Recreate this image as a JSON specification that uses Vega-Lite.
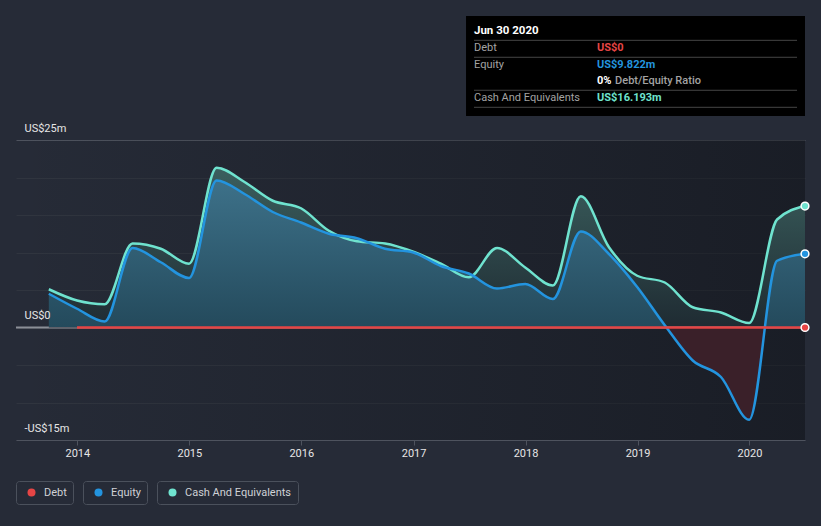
{
  "$schema": "https://vega.github.io/schema/vega-lite/v6.json",
  "width": 789,
  "height": 300,
  "autosize": {"type": "none"},
  "padding": {"left": 16, "top": 140, "right": 16, "bottom": 86},
  "background": "#262b37",
  "resolve": {"axis": {"y": "independent"}},
  "config": {
    "view": {"stroke": null},
    "font": "Roboto",
    "text": {"font": "Roboto"},
    "axis": {"labelFont": "Roboto", "labelFontSize": 11, "labelColor": "#e6e6e6"},
    "legend": {"title": null, "orient": "none", "symbolType": "circle", "symbolSize": 64, "symbolStrokeWidth": 0, "labelColor": "#cfd2d6", "labelFontSize": 11, "labelFont": "Roboto", "labelOffset": 7, "symbolOffset": 4, "strokeColor": "#4b515c", "cornerRadius": 3, "padding": 6}
  },
  "data": {
    "values": [
      {"date": "2013-09-30", "equity": 4.5, "cash": 5.1, "debt": null},
      {"date": "2013-12-31", "equity": 2.5, "cash": 3.6, "debt": 0},
      {"date": "2014-03-31", "equity": 0.8, "cash": 3.1, "debt": 0},
      {"date": "2014-06-30", "equity": 10.6, "cash": 11.2, "debt": 0},
      {"date": "2014-09-30", "equity": 8.7, "cash": 10.5, "debt": 0},
      {"date": "2014-12-31", "equity": 6.6, "cash": 8.5, "debt": 0},
      {"date": "2015-03-31", "equity": 19.6, "cash": 21.3, "debt": 0},
      {"date": "2015-06-30", "equity": 17.8, "cash": 19.4, "debt": 0},
      {"date": "2015-09-30", "equity": 15.4, "cash": 16.9, "debt": 0},
      {"date": "2015-12-31", "equity": 14.0, "cash": 15.9, "debt": 0},
      {"date": "2016-03-31", "equity": 12.5, "cash": 12.9, "debt": 0},
      {"date": "2016-06-30", "equity": 11.9, "cash": 11.5, "debt": 0},
      {"date": "2016-09-30", "equity": 10.5, "cash": 11.2, "debt": 0},
      {"date": "2016-12-31", "equity": 10.0, "cash": 10.1, "debt": 0},
      {"date": "2017-03-31", "equity": 8.2, "cash": 8.5, "debt": 0},
      {"date": "2017-06-30", "equity": 7.2, "cash": 6.7, "debt": 0},
      {"date": "2017-09-30", "equity": 5.2, "cash": 10.6, "debt": 0},
      {"date": "2017-12-31", "equity": 5.8, "cash": 8.0, "debt": 0},
      {"date": "2018-03-31", "equity": 3.8, "cash": 5.6, "debt": 0},
      {"date": "2018-06-30", "equity": 12.8, "cash": 17.5, "debt": 0},
      {"date": "2018-09-30", "equity": 9.8, "cash": 10.7, "debt": 0},
      {"date": "2018-12-31", "equity": 5.4, "cash": 6.9, "debt": 0},
      {"date": "2019-03-31", "equity": 0.3, "cash": 6.0, "debt": 0},
      {"date": "2019-06-30", "equity": -4.4, "cash": 2.7, "debt": 0},
      {"date": "2019-09-30", "equity": -6.6, "cash": 2.0, "debt": 0},
      {"date": "2019-12-31", "equity": -12.3, "cash": 0.6, "debt": 0},
      {"date": "2020-03-31", "equity": 8.9, "cash": 14.4, "debt": 0},
      {"date": "2020-06-30", "equity": 9.822, "cash": 16.193, "debt": 0}
    ]
  },
  "layer": [
    {
      "data": {"values": [{}]},
      "mark": {"type": "rect", "fill": {"gradient": "linear", "x1": 0, "y1": 0, "x2": 1, "y2": 0, "stops": [{"offset": 0, "color": "rgba(8,10,14,0)"}, {"offset": 1, "color": "rgba(8,10,14,0.42)"}]}},
      "encoding": {
        "x": {"datum": {"year": 2013, "month": 6, "date": 15}, "type": "temporal", "title": null, "scale": {"domain": [{"year": 2013, "month": 6, "date": 15}, {"year": 2020, "month": 6, "date": 30}]}},
        "x2": {"datum": {"year": 2020, "month": 6, "date": 30}},
        "y": {"datum": -15, "type": "quantitative", "title": null, "scale": {"domain": [-15, 25], "nice": false, "zero": false}, "axis": null},
        "y2": {"datum": 25}
      }
    },
    {
      "mark": {"type": "area", "interpolate": "monotone", "opacity": 0.92, "fill": {"gradient": "linear", "x1": 0, "y1": 0, "x2": 0, "y2": 1, "stops": [{"offset": 0, "color": "#3d6462"}, {"offset": 1, "color": "#1f2c33"}]}},
      "encoding": {
        "x": {"field": "date", "type": "temporal", "title": null, "scale": {"domain": [{"year": 2013, "month": 6, "date": 15}, {"year": 2020, "month": 6, "date": 30}]},
          "axis": {"title": null, "values": [{"year": 2014, "month": 1, "date": 1}, {"year": 2015, "month": 1, "date": 1}, {"year": 2016, "month": 1, "date": 1}, {"year": 2017, "month": 1, "date": 1}, {"year": 2018, "month": 1, "date": 1}, {"year": 2019, "month": 1, "date": 1}, {"year": 2020, "month": 1, "date": 1}], "tickCount": 20, "format": "%Y", "grid": false, "domain": true, "domainColor": "#4e535e", "domainWidth": 1, "ticks": true, "tickColor": "#4e535e", "tickSize": 5, "labelColor": "#e6e6e6", "labelFontSize": 11, "labelFont": "Roboto", "labelPadding": 2, "labelFlush": false}},
        "y": {"field": "cash", "type": "quantitative", "title": null, "scale": {"domain": [-15, 25], "nice": false, "zero": false},
          "axis": {"title": null, "orient": "left", "zindex": 0, "values": [-15, -10, -5, 0, 5, 10, 15, 20, 25], "tickCount": 20, "domain": false, "ticks": false, "tickSize": 0, "labels": false, "grid": true, "gridWidth": 1, "gridColor": {"condition": {"test": "datum.value == 25", "value": "#4e535e"}, "value": "#30353f"}}},
        "y2": {"datum": 0}
      }
    },
    {
      "data": {"values": [{}]},
      "mark": {"type": "rule", "color": "#8b8f97", "strokeWidth": 2},
      "encoding": {"y": {"datum": 0, "type": "quantitative", "title": null, "scale": {"domain": [-15, 25], "nice": false, "zero": false}, "axis": null}}
    },
    {
      "mark": {"type": "area", "interpolate": "monotone", "fill": {"gradient": "linear", "x1": 0, "y1": 0, "x2": 0, "y2": 1, "stops": [{"offset": 0, "color": "#3d7189"}, {"offset": 0.612, "color": "#244a5c"}, {"offset": 0.616, "color": "#3a2029"}, {"offset": 1, "color": "#3a2029"}]}},
      "encoding": {
        "x": {"field": "date", "type": "temporal", "title": null, "scale": {"domain": [{"year": 2013, "month": 6, "date": 15}, {"year": 2020, "month": 6, "date": 30}]}},
        "y": {"field": "equity", "type": "quantitative", "title": null, "scale": {"domain": [-15, 25], "nice": false, "zero": false},
          "axis": {"title": null, "orient": "left", "zindex": 1, "values": [-15, -10, -5, 0, 5, 10, 15, 20, 25], "tickCount": 20, "domain": false, "ticks": false, "tickSize": 0, "grid": false, "labelAlign": "left", "labelPadding": -8, "labelBaseline": "alphabetic", "labelOffset": -9, "labelColor": "#e6e6e6", "labelFontSize": 11, "labelFont": "Roboto", "labelOverlap": false, "labelFlush": false, "labelBound": false, "labelExpr": "datum.value == 25 ? 'US$25m' : datum.value == 0 ? 'US$0' : datum.value == -15 ? '-US$15m' : ''"}},
        "y2": {"datum": 0}
      }
    },
    {
      "mark": {"type": "line", "interpolate": "monotone", "color": "#6fe3cf", "strokeWidth": 2.5},
      "encoding": {
        "x": {"field": "date", "type": "temporal", "title": null, "scale": {"domain": [{"year": 2013, "month": 6, "date": 15}, {"year": 2020, "month": 6, "date": 30}]}},
        "y": {"field": "cash", "type": "quantitative", "title": null, "scale": {"domain": [-15, 25], "nice": false, "zero": false}, "axis": null}
      }
    },
    {
      "mark": {"type": "line", "interpolate": "monotone", "strokeWidth": 2.5},
      "encoding": {
        "x": {"field": "date", "type": "temporal", "title": null, "scale": {"domain": [{"year": 2013, "month": 6, "date": 15}, {"year": 2020, "month": 6, "date": 30}]}},
        "y": {"field": "equity", "type": "quantitative", "title": null, "scale": {"domain": [-15, 25], "nice": false, "zero": false}, "axis": null},
        "color": {"datum": "Equity", "type": "nominal", "scale": {"domain": ["Equity"], "range": ["#2394df"]},
          "legend": {"legendX": 67, "legendY": 341, "symbolFillColor": "#2394df", "symbolStrokeColor": "#2394df"}}
      }
    },
    {
      "mark": {"type": "line", "strokeWidth": 2.5},
      "encoding": {
        "x": {"field": "date", "type": "temporal", "title": null, "scale": {"domain": [{"year": 2013, "month": 6, "date": 15}, {"year": 2020, "month": 6, "date": 30}]}},
        "y": {"field": "debt", "type": "quantitative", "title": null, "scale": {"domain": [-15, 25], "nice": false, "zero": false}, "axis": null},
        "stroke": {"datum": "Debt", "type": "nominal", "scale": {"domain": ["Debt"], "range": ["#e64545"]},
          "legend": {"legendX": 0, "legendY": 341, "symbolFillColor": "#e64545", "symbolStrokeColor": "#e64545"}}
      }
    },
    {
      "transform": [{"filter": "year(datum.date) == 2020 && month(datum.date) == 5"}],
      "mark": {"type": "point", "filled": true, "size": 60, "stroke": "#ffffff", "strokeWidth": 1.5, "opacity": 1},
      "encoding": {
        "x": {"field": "date", "type": "temporal", "title": null, "scale": {"domain": [{"year": 2013, "month": 6, "date": 15}, {"year": 2020, "month": 6, "date": 30}]}},
        "y": {"field": "cash", "type": "quantitative", "title": null, "scale": {"domain": [-15, 25], "nice": false, "zero": false}, "axis": null},
        "fill": {"datum": "Cash And Equivalents", "type": "nominal", "scale": {"domain": ["Cash And Equivalents"], "range": ["#6fe3cf"]},
          "legend": {"legendX": 141, "legendY": 341, "symbolFillColor": "#6fe3cf", "symbolStrokeColor": "#6fe3cf"}}
      }
    },
    {
      "transform": [{"filter": "year(datum.date) == 2020 && month(datum.date) == 5"}],
      "mark": {"type": "point", "filled": true, "size": 60, "fill": "#2394df", "stroke": "#ffffff", "strokeWidth": 1.5, "opacity": 1},
      "encoding": {
        "x": {"field": "date", "type": "temporal", "title": null, "scale": {"domain": [{"year": 2013, "month": 6, "date": 15}, {"year": 2020, "month": 6, "date": 30}]}},
        "y": {"field": "equity", "type": "quantitative", "title": null, "scale": {"domain": [-15, 25], "nice": false, "zero": false}, "axis": null}
      }
    },
    {
      "transform": [{"filter": "year(datum.date) == 2020 && month(datum.date) == 5"}],
      "mark": {"type": "point", "filled": true, "size": 60, "fill": "#e64545", "stroke": "#ffffff", "strokeWidth": 1.5, "opacity": 1},
      "encoding": {
        "x": {"field": "date", "type": "temporal", "title": null, "scale": {"domain": [{"year": 2013, "month": 6, "date": 15}, {"year": 2020, "month": 6, "date": 30}]}},
        "y": {"field": "debt", "type": "quantitative", "title": null, "scale": {"domain": [-15, 25], "nice": false, "zero": false}, "axis": null}
      }
    },
    {
      "data": {"values": [{}]},
      "mark": {"type": "rect", "fill": "#000000"},
      "encoding": {
        "x": {"datum": {"year": 2017, "month": 6, "date": 21}, "type": "temporal", "title": null, "scale": {"domain": [{"year": 2013, "month": 6, "date": 15}, {"year": 2020, "month": 6, "date": 30}]}},
        "x2": {"datum": {"year": 2020, "month": 6, "date": 30}},
        "y": {"datum": 41.53, "type": "quantitative", "title": null, "scale": {"domain": [-15, 25], "nice": false, "zero": false}, "axis": null},
        "y2": {"datum": 28.2}
      }
    },
    {
      "data": {"values": [{}]},
      "mark": {"type": "rule", "color": "#454545", "strokeWidth": 1},
      "encoding": {
        "x": {"datum": {"year": 2017, "month": 7, "date": 17}, "type": "temporal", "title": null, "scale": {"domain": [{"year": 2013, "month": 6, "date": 15}, {"year": 2020, "month": 6, "date": 30}]}},
        "x2": {"datum": {"year": 2020, "month": 6, "date": 4}},
        "y": {"datum": 38.29, "type": "quantitative", "title": null, "scale": {"domain": [-15, 25], "nice": false, "zero": false}, "axis": null}
      }
    },
    {
      "data": {"values": [{}]},
      "mark": {"type": "rule", "color": "#454545", "strokeWidth": 1},
      "encoding": {
        "x": {"datum": {"year": 2017, "month": 7, "date": 17}, "type": "temporal", "title": null, "scale": {"domain": [{"year": 2013, "month": 6, "date": 15}, {"year": 2020, "month": 6, "date": 30}]}},
        "x2": {"datum": {"year": 2020, "month": 6, "date": 4}},
        "y": {"datum": 36.03, "type": "quantitative", "title": null, "scale": {"domain": [-15, 25], "nice": false, "zero": false}, "axis": null}
      }
    },
    {
      "data": {"values": [{}]},
      "mark": {"type": "rule", "color": "#454545", "strokeWidth": 1},
      "encoding": {
        "x": {"datum": {"year": 2017, "month": 7, "date": 17}, "type": "temporal", "title": null, "scale": {"domain": [{"year": 2013, "month": 6, "date": 15}, {"year": 2020, "month": 6, "date": 30}]}},
        "x2": {"datum": {"year": 2020, "month": 6, "date": 4}},
        "y": {"datum": 31.63, "type": "quantitative", "title": null, "scale": {"domain": [-15, 25], "nice": false, "zero": false}, "axis": null}
      }
    },
    {
      "data": {"values": [{}]},
      "mark": {"type": "rule", "color": "#454545", "strokeWidth": 1},
      "encoding": {
        "x": {"datum": {"year": 2017, "month": 7, "date": 17}, "type": "temporal", "title": null, "scale": {"domain": [{"year": 2013, "month": 6, "date": 15}, {"year": 2020, "month": 6, "date": 30}]}},
        "x2": {"datum": {"year": 2020, "month": 6, "date": 4}},
        "y": {"datum": 29.36, "type": "quantitative", "title": null, "scale": {"domain": [-15, 25], "nice": false, "zero": false}, "axis": null}
      }
    },
    {
      "data": {"values": [{"t": "Jun 30 2020"}]},
      "mark": {"type": "text", "align": "left", "baseline": "middle", "fontSize": 11.5, "fontWeight": "bold", "color": "#ffffff"},
      "encoding": {
        "text": {"field": "t"},
        "x": {"datum": {"year": 2017, "month": 7, "date": 17}, "type": "temporal", "title": null, "scale": {"domain": [{"year": 2013, "month": 6, "date": 15}, {"year": 2020, "month": 6, "date": 30}]}},
        "y": {"datum": 39.53, "type": "quantitative", "title": null, "scale": {"domain": [-15, 25], "nice": false, "zero": false}, "axis": null}
      }
    },
    {
      "data": {"values": [{"t": "Debt"}]},
      "mark": {"type": "text", "align": "left", "baseline": "middle", "fontSize": 11, "color": "#a3a3a3"},
      "encoding": {
        "text": {"field": "t"},
        "x": {"datum": {"year": 2017, "month": 7, "date": 17}, "type": "temporal", "title": null, "scale": {"domain": [{"year": 2013, "month": 6, "date": 15}, {"year": 2020, "month": 6, "date": 30}]}},
        "y": {"datum": 37.23, "type": "quantitative", "title": null, "scale": {"domain": [-15, 25], "nice": false, "zero": false}, "axis": null}
      }
    },
    {
      "data": {"values": [{"t": "Equity"}]},
      "mark": {"type": "text", "align": "left", "baseline": "middle", "fontSize": 11, "color": "#a3a3a3"},
      "encoding": {
        "text": {"field": "t"},
        "x": {"datum": {"year": 2017, "month": 7, "date": 17}, "type": "temporal", "title": null, "scale": {"domain": [{"year": 2013, "month": 6, "date": 15}, {"year": 2020, "month": 6, "date": 30}]}},
        "y": {"datum": 35.0, "type": "quantitative", "title": null, "scale": {"domain": [-15, 25], "nice": false, "zero": false}, "axis": null}
      }
    },
    {
      "data": {"values": [{"t": "Cash And Equivalents"}]},
      "mark": {"type": "text", "align": "left", "baseline": "middle", "fontSize": 11, "color": "#a3a3a3"},
      "encoding": {
        "text": {"field": "t"},
        "x": {"datum": {"year": 2017, "month": 7, "date": 17}, "type": "temporal", "title": null, "scale": {"domain": [{"year": 2013, "month": 6, "date": 15}, {"year": 2020, "month": 6, "date": 30}]}},
        "y": {"datum": 30.56, "type": "quantitative", "title": null, "scale": {"domain": [-15, 25], "nice": false, "zero": false}, "axis": null}
      }
    },
    {
      "data": {"values": [{"t": "US$0"}]},
      "mark": {"type": "text", "align": "left", "baseline": "middle", "fontSize": 11, "fontWeight": "bold", "color": "#e64545"},
      "encoding": {
        "text": {"field": "t"},
        "x": {"datum": {"year": 2018, "month": 8, "date": 22}, "type": "temporal", "title": null, "scale": {"domain": [{"year": 2013, "month": 6, "date": 15}, {"year": 2020, "month": 6, "date": 30}]}},
        "y": {"datum": 37.23, "type": "quantitative", "title": null, "scale": {"domain": [-15, 25], "nice": false, "zero": false}, "axis": null}
      }
    },
    {
      "data": {"values": [{"t": "US$9.822m"}]},
      "mark": {"type": "text", "align": "left", "baseline": "middle", "fontSize": 11, "fontWeight": "bold", "color": "#2394df"},
      "encoding": {
        "text": {"field": "t"},
        "x": {"datum": {"year": 2018, "month": 8, "date": 22}, "type": "temporal", "title": null, "scale": {"domain": [{"year": 2013, "month": 6, "date": 15}, {"year": 2020, "month": 6, "date": 30}]}},
        "y": {"datum": 35.0, "type": "quantitative", "title": null, "scale": {"domain": [-15, 25], "nice": false, "zero": false}, "axis": null}
      }
    },
    {
      "data": {"values": [{"t": "0%"}]},
      "mark": {"type": "text", "align": "left", "baseline": "middle", "fontSize": 11, "fontWeight": "bold", "color": "#ffffff"},
      "encoding": {
        "text": {"field": "t"},
        "x": {"datum": {"year": 2018, "month": 8, "date": 22}, "type": "temporal", "title": null, "scale": {"domain": [{"year": 2013, "month": 6, "date": 15}, {"year": 2020, "month": 6, "date": 30}]}},
        "y": {"datum": 32.87, "type": "quantitative", "title": null, "scale": {"domain": [-15, 25], "nice": false, "zero": false}, "axis": null}
      }
    },
    {
      "data": {"values": [{"t": "Debt/Equity Ratio"}]},
      "mark": {"type": "text", "align": "left", "baseline": "middle", "fontSize": 11, "fontWeight": 500, "color": "#a3a3a3"},
      "encoding": {
        "text": {"field": "t"},
        "x": {"datum": {"year": 2018, "month": 10, "date": 20}, "type": "temporal", "title": null, "scale": {"domain": [{"year": 2013, "month": 6, "date": 15}, {"year": 2020, "month": 6, "date": 30}]}},
        "y": {"datum": 32.87, "type": "quantitative", "title": null, "scale": {"domain": [-15, 25], "nice": false, "zero": false}, "axis": null}
      }
    },
    {
      "data": {"values": [{"t": "US$16.193m"}]},
      "mark": {"type": "text", "align": "left", "baseline": "middle", "fontSize": 11, "fontWeight": "bold", "color": "#6fe3cf"},
      "encoding": {
        "text": {"field": "t"},
        "x": {"datum": {"year": 2018, "month": 8, "date": 22}, "type": "temporal", "title": null, "scale": {"domain": [{"year": 2013, "month": 6, "date": 15}, {"year": 2020, "month": 6, "date": 30}]}},
        "y": {"datum": 30.56, "type": "quantitative", "title": null, "scale": {"domain": [-15, 25], "nice": false, "zero": false}, "axis": null}
      }
    }
  ]
}
